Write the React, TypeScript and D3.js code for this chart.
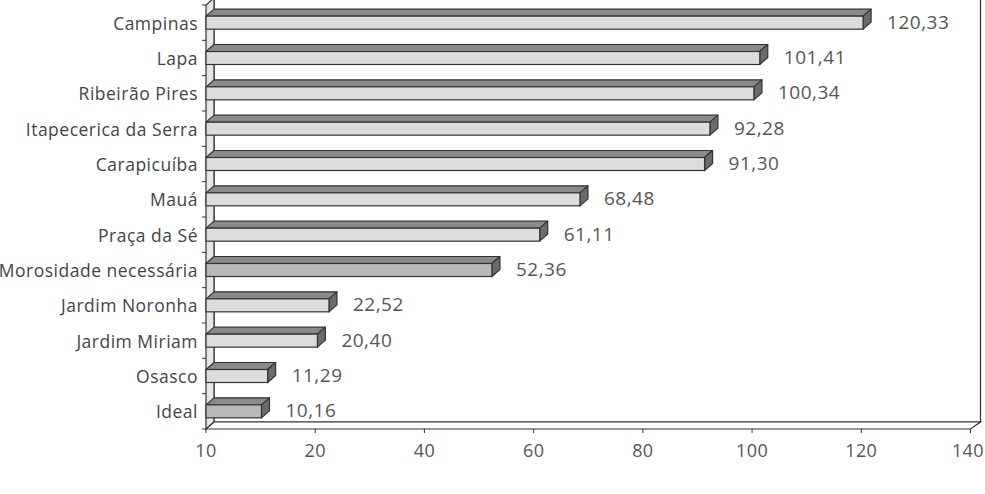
import React, { useRef, useEffect } from 'react';
import { select, scaleBand, scaleLinear } from 'd3';

// categories top to bottom
const categories = [
  'Campinas',
  'Lapa',
  'Ribeirão Pires',
  'Itapecerica da Serra',
  'Carapicuíba',
  'Mauá',
  'Praça da Sé',
  'Morosidade necessária',
  'Jardim Noronha',
  'Jardim Miriam',
  'Osasco',
  'Ideal',
];
const values = [120.33, 101.41, 100.34, 92.28, 91.3, 68.48, 61.11, 52.36, 22.52, 20.4, 11.29, 10.16];
const highlighted = ['Morosidade necessária', 'Ideal'];
const tickValues = [0, 20, 40, 60, 80, 100, 120, 140];
const tickLabels = ['10', '20', '40', '60', '80', '100', '120', '140'];

function App() {
  const svgRef = useRef<SVGSVGElement>(null);

  useEffect(() => {
    document.body.style.margin = '0';
    const width = 985;
    const height = 494;
    const dx = 8;
    const dy = -7;
    const left = 206;
    const right = 970.5;
    const top = 5;
    const bottom = 429;
    const font = '"Open Sans", "Noto Sans", sans-serif';

    const svg = select(svgRef.current).attr('width', width).attr('height', height);
    svg.selectAll('*').remove();

    const x = scaleLinear().domain([0, 140]).range([left, right]);
    const y = scaleBand<string>().domain(categories).range([top, bottom]);

    const stroke = '#333';

    // back wall
    svg
      .append('path')
      .attr('d', `M${left + dx},${top + dy}L${right + dx + 2},${top + dy}L${right + dx + 2},${bottom + dy}L${left + dx},${bottom + dy}Z`)
      .attr('fill', '#fff')
      .attr('stroke', stroke)
      .attr('stroke-width', 1.2);

    // left wall
    svg
      .append('path')
      .attr('d', `M${left},${top}L${left + dx},${top + dy}L${left + dx},${bottom + dy}L${left},${bottom}Z`)
      .attr('fill', '#e6e6e6')
      .attr('stroke', stroke)
      .attr('stroke-width', 1.2);

    // floor
    svg
      .append('path')
      .attr('d', `M${left},${bottom}L${left + dx},${bottom + dy}L${right + dx + 2},${bottom + dy}L${right},${bottom}Z`)
      .attr('fill', '#fff')
      .attr('stroke', stroke)
      .attr('stroke-width', 1.2);

    // x ticks
    svg
      .selectAll('.xtick')
      .data(tickValues)
      .join('line')
      .attr('x1', (d) => x(d))
      .attr('x2', (d) => x(d))
      .attr('y1', bottom)
      .attr('y2', bottom + 4)
      .attr('stroke', stroke);
    const last = tickValues.length - 1;
    svg
      .selectAll('.xlabel')
      .data(tickValues)
      .join('text')
      // last label would run off the right edge, keep it inside
      .attr('x', (d, i) => (i === last ? width - 1 : x(d)))
      .attr('y', bottom + 21)
      .attr('text-anchor', (d, i) => (i === last ? 'end' : 'middle'))
      .attr('dominant-baseline', 'central')
      .attr('font-family', font)
      .attr('font-size', 18)
      .attr('letter-spacing', 0.4)
      .attr('fill', '#555')
      .text((d, i) => tickLabels[i]);

    // y ticks at band edges
    const edges = categories.map((c) => y(c) as number).concat([bottom]);
    svg
      .selectAll('.ytick')
      .data(edges)
      .join('line')
      .attr('x1', left - 4)
      .attr('x2', left)
      .attr('y1', (d) => d)
      .attr('y2', (d) => d)
      .attr('stroke', stroke);

    const faceH = 13;
    const bars = categories.map((c, i) => ({ name: c, value: values[i] }));

    const g = svg.selectAll('.bar').data(bars).join('g');
    const fy = (d) => (y(d.name) as number) + y.bandwidth() / 2 - faceH / 2;

    // top face
    g.append('path')
      .attr('d', (d) => {
        const y0 = fy(d);
        const x1 = x(d.value);
        return `M${left},${y0}L${left + dx},${y0 + dy}L${x1 + dx},${y0 + dy}L${x1},${y0}Z`;
      })
      .attr('fill', '#8a8a8a')
      .attr('stroke', stroke)
      .attr('stroke-width', 1.2)
      .attr('stroke-linejoin', 'round');
    // side face
    g.append('path')
      .attr('d', (d) => {
        const y0 = fy(d);
        const x1 = x(d.value);
        return `M${x1},${y0}L${x1 + dx},${y0 + dy}L${x1 + dx},${y0 + dy + faceH}L${x1},${y0 + faceH}Z`;
      })
      .attr('fill', '#6b6b6b')
      .attr('stroke', stroke)
      .attr('stroke-width', 1.2)
      .attr('stroke-linejoin', 'round');
    // front face
    g.append('rect')
      .attr('x', left)
      .attr('y', (d) => fy(d))
      .attr('width', (d) => x(d.value) - left)
      .attr('height', faceH)
      .attr('fill', (d) => (highlighted.includes(d.name) ? '#b8b8b8' : '#dcdcdc'))
      .attr('stroke', stroke)
      .attr('stroke-width', 1.2);

    // value labels
    g.append('text')
      .attr('x', (d) => x(d.value) + 24)
      .attr('y', (d) => fy(d) + faceH / 2 - 1)
      .attr('dominant-baseline', 'central')
      .attr('font-family', font)
      .attr('font-size', 19)
      .attr('letter-spacing', 0.5)
      .attr('fill', '#555')
      .text((d) => d.value.toFixed(2).replace('.', ','));

    // category labels
    svg
      .selectAll('.ylabel')
      .data(categories)
      .join('text')
      .attr('x', left - 8)
      .attr('y', (d) => (y(d) as number) + y.bandwidth() / 2)
      .attr('text-anchor', 'end')
      .attr('dominant-baseline', 'central')
      .attr('font-family', font)
      .attr('font-size', 17.5)
      .attr('letter-spacing', 0.5)
      .attr('fill', '#444')
      .text((d) => d);
  }, []);

  return <svg ref={svgRef} />;
}

export default App;
